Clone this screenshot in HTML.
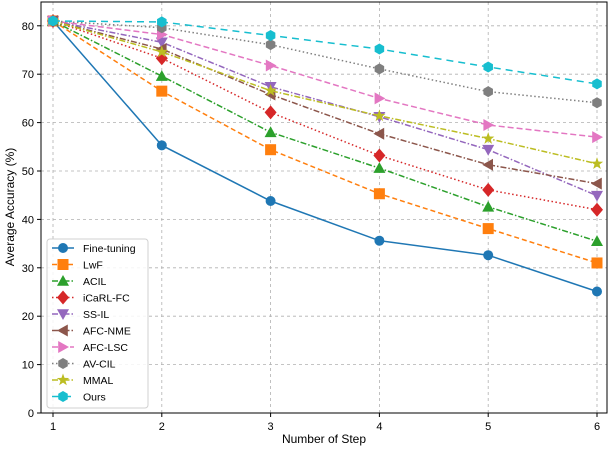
<!DOCTYPE html>
<html><head><meta charset="utf-8"><style>
body{margin:0;background:#fff}
svg text{font-family:"Liberation Sans","DejaVu Sans",sans-serif;fill:#000}
</style></head><body>
<svg id="chart" width="610" height="446" xmlns="http://www.w3.org/2000/svg">
<g id="grid"></g>
<g id="series"></g>
<g id="axes"></g>
<g id="legend"></g>
</svg>
<script>
const steps=[1,2,3,4,5,6];
const yTicks=[0,10,20,30,40,50,60,70,80];
const names=["Fine-tuning","LwF","ACIL","iCaRL-FC","SS-IL","AFC-NME","AFC-LSC","AV-CIL","MMAL","Ours"];
const fineTuning=[81,55.3,43.8,35.6,32.6,25.1];
const lwf=[81,66.5,54.4,45.3,38.1,31.0];
const acil=[81,69.6,58.0,50.6,42.6,35.5];
const icarl=[81,73.3,62.1,53.2,46.1,42.0];
const ssil=[81,76.6,67.4,61.2,54.4,44.9];
const afcNme=[81,75.2,65.8,57.7,51.3,47.4];
const afcLsc=[81,78.2,71.8,65.0,59.5,57.0];
const avcil=[81,79.6,76.1,71.1,66.4,64.1];
const mmal=[81,74.6,66.6,61.4,56.7,51.5];
const ours=[81,80.8,78.0,75.2,71.5,68.0];
const allSeries=[fineTuning,lwf,acil,icarl,ssil,afcNme,afcLsc,avcil,mmal,ours];
const colors=["#1f77b4","#ff7f0e","#2ca02c","#d62728","#9467bd","#8c564b","#e377c2","#7f7f7f","#bcbd22","#17becf"];
const dashes=["","5,3","6,2,1.5,2","1.5,2.5","6,2,1.5,2","6,2,1.5,2","6,3","1.5,2.5","6,2,1.5,2","7,5"];
const markers=["circle","square","tri-up","diamond","tri-down","tri-left","tri-right","hex","star","hex"];
const NS="http://www.w3.org/2000/svg";
const X0=41,X1=607,Y0=2,Y1=413;
const xS=v=>53+(v-1)*108.8;
const yS=v=>413-v*4.84;
function mk(tag,attrs,parent){const e=document.createElementNS(NS,tag);for(const k in attrs)e.setAttribute(k,attrs[k]);parent.appendChild(e);return e;}
function marker(type,x,y,c,parent){
  let e,s=6;
  if(type==="circle")e=mk("circle",{cx:x,cy:y,r:5,fill:c},parent);
  else if(type==="square")e=mk("rect",{x:x-5.5,y:y-5.5,width:11,height:11,fill:c},parent);
  else{let p;
    if(type==="tri-up")p=[[x,y-s],[x+s,y+s*0.8],[x-s,y+s*0.8]];
    else if(type==="tri-down")p=[[x,y+s],[x+s,y-s*0.8],[x-s,y-s*0.8]];
    else if(type==="tri-left")p=[[x-s,y],[x+s*0.8,y-s],[x+s*0.8,y+s]];
    else if(type==="tri-right")p=[[x+s,y],[x-s*0.8,y-s],[x-s*0.8,y+s]];
    else if(type==="diamond")p=[[x,y-7],[x+6,y],[x,y+7],[x-6,y]];
    else if(type==="hex"){p=[];for(let i=0;i<6;i++){const a=Math.PI/3*i+Math.PI/6;p.push([x+5.5*Math.cos(a),y+5.5*Math.sin(a)]);}}
    else {p=[];for(let i=0;i<10;i++){const r=i%2?2.6:6.5,a=-Math.PI/2+i*Math.PI/5;p.push([x+r*Math.cos(a),y+r*Math.sin(a)]);}}
    e=mk("polygon",{points:p.map(q=>q.join(",")).join(" "),fill:c},parent);}
  
  
}
const grid=document.getElementById("grid"),axes=document.getElementById("axes"),ser=document.getElementById("series"),leg=document.getElementById("legend");
steps.forEach(s=>{const l=mk("line",{x1:xS(s),x2:xS(s),y1:Y0,y2:Y1,stroke:"#b0b0b0","stroke-width":0.8,"stroke-dasharray":"3,3"},grid);
  
  const t=mk("line",{x1:xS(s),x2:xS(s),y1:Y1,y2:Y1+4,stroke:"#000"},axes);
  const tx=mk("text",{x:xS(s),y:Y1+17,"text-anchor":"middle","font-size":11},axes);tx.textContent=s;
  });
yTicks.forEach(v=>{if(v>0){const l=mk("line",{x1:X0,x2:X1,y1:yS(v),y2:yS(v),stroke:"#b0b0b0","stroke-width":0.8,"stroke-dasharray":"3,3"},grid);
  }
  mk("line",{x1:X0-4,x2:X0,y1:yS(v),y2:yS(v),stroke:"#000"},axes);
  const tx=mk("text",{x:X0-7,y:yS(v)+4,"text-anchor":"end","font-size":11},axes);tx.textContent=v;
  });
mk("rect",{x:X0,y:Y0,width:X1-X0,height:Y1-Y0,fill:"none",stroke:"#000","stroke-width":1},axes);
const xt=mk("text",{x:324,y:443,"text-anchor":"middle","font-size":12},axes);xt.textContent="Number of Step";

const yt=mk("text",{x:14,y:207,"text-anchor":"middle","font-size":12,transform:"rotate(-90 14 207)"},axes);yt.textContent="Average Accuracy (%)";

allSeries.forEach((d,i)=>{
  const g=mk("g",{},ser);
  
  
  const pl=mk("polyline",{points:d.map((v,j)=>xS(steps[j])+","+yS(v)).join(" "),fill:"none",stroke:colors[i],"stroke-width":1.5,"stroke-dasharray":dashes[i]},g);
  
  d.forEach((v,j)=>marker(markers[i],xS(steps[j]),yS(v),colors[i],g));
});
const box=mk("rect",{x:47,y:239,width:101,height:169,rx:3,fill:"#fff","fill-opacity":0.85,stroke:"#d0d0d0"},leg);

names.forEach((n,i)=>{const y=248+i*16.5;const g=mk("g",{},leg);
  
  mk("line",{x1:52,x2:74,y1:y,y2:y,stroke:colors[i],"stroke-width":1.5,"stroke-dasharray":dashes[i]},g);
  marker(markers[i],63,y,colors[i],g);
  const t=mk("text",{x:83,y:y+4,"font-size":10.5},g);t.textContent=n;});
</script>
</body></html>
